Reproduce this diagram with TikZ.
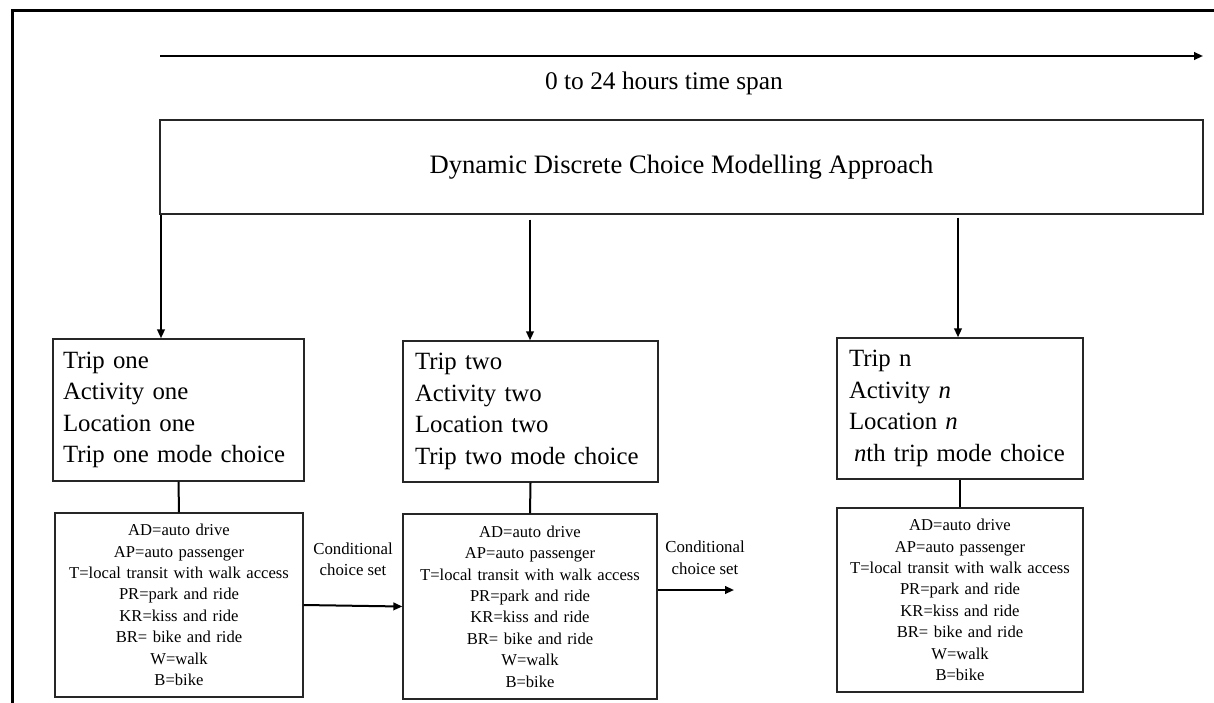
\documentclass[tikz,border=0pt]{standalone}
\usepackage{fontspec}
\setmainfont{Liberation Serif}
\usetikzlibrary{arrows.meta,calc}
\begin{document}
\begin{tikzpicture}[x=0.5pt,y=-0.5pt,
  box/.style={draw=black!85,line width=0.7pt,inner sep=0pt,fill=white},
  tripbox/.style={box,align=left,font=\fontsize{12.4}{15.75}\selectfont},
  modebox/.style={box,align=center,font=\fontsize{8.3}{10.7}\selectfont},
  conn/.style={line width=1pt,black},
  arr/.style={conn,-{Triangle[length=4.5pt,width=3.8pt]}},
  lbl/.style={inner sep=0pt,align=center,font=\fontsize{8.4}{10.75}\selectfont}]
\useasboundingbox (0,0) rectangle (1214,702);
% frame (top and left)
\coordinate (fr0) at (12,702);
\coordinate (fr1) at (12,10);
\coordinate (fr2) at (1214,10);
\draw[line width=1.5pt,line cap=rect] (fr0) -- (fr1) -- (fr2);
% time arrow
\coordinate (ts) at (160,56);
\coordinate (te) at (1203,56);
\draw[arr] (ts) -- (te);
\node[inner sep=0pt,font=\fontsize{12.7}{15}\selectfont] (time) at (664,83) {0 to 24 hours time span};
% main box
\node[box,minimum width=521.5pt,minimum height=47pt,font=\fontsize{13.3}{16}\selectfont] (main) at (681.5,167) {Dynamic Discrete Choice Modelling Approach};
% trip boxes
\node[tripbox,minimum width=125.5pt,minimum height=71pt,text width=115.5pt] (t1) at (178.5,410)
  {Trip one\\Activity one\\Location one\\Trip one mode choice};
\node[tripbox,minimum width=127.5pt,minimum height=70.5pt,text width=115.5pt] (t2) at (530.5,411.5)
  {Trip two\\Activity two\\Location two\\Trip two mode choice};
\node[tripbox,minimum width=123pt,minimum height=70.5pt,text width=111pt] (t3) at (960,408.5)
  {Trip n\\Activity \textit{n}\\Location \textit{n}\\\hspace{2.5pt}\textit{n}th trip mode choice};
% mode boxes
\node[modebox,minimum width=124pt,minimum height=92pt,text width=124pt] (m1) at (179,605)
  {AD=auto drive\\AP=auto passenger\\T=local transit with walk access\\PR=park and ride\\KR=kiss and ride\\BR= bike and ride\\W=walk\\B=bike};
\node[modebox,minimum width=127pt,minimum height=92.5pt,text width=127pt] (m2) at (530,606.5)
  {AD=auto drive\\AP=auto passenger\\T=local transit with walk access\\PR=park and ride\\KR=kiss and ride\\BR= bike and ride\\W=walk\\B=bike};
\node[modebox,minimum width=123pt,minimum height=92pt,text width=123pt] (m3) at (960,600)
  {AD=auto drive\\AP=auto passenger\\T=local transit with walk access\\PR=park and ride\\KR=kiss and ride\\BR= bike and ride\\W=walk\\B=bike};
% arrows from main box
\coordinate (x1) at (161,0);
\coordinate (x2) at (530,0);
\coordinate (x3) at (958,0);
\draw[arr] (main.south -| x1) -- (t1.north -| x1);
\draw[arr] ($(main.south -| x2)+(0,5)$) -- (t2.north -| x2);
\draw[arr] ($(main.south -| x3)+(0,3)$) -- (t3.north -| x3);
% trip to mode
\draw[conn] (t1.south) -- (m1.north);
\draw[conn] (t2.south) -- (m2.north);
\draw[conn] (t3.south) -- (m3.north);
% conditional choice set arrows
\draw[arr] (m1.east) -- (m2.west);
\node[lbl] (c1) at (353,559) {Conditional\\choice set};
\coordinate (ce) at (734,590);
\draw[arr] (m2.east |- ce) -- (ce);
\node[lbl] (c2) at (705,557.5) {Conditional\\choice set};
\end{tikzpicture}
\end{document}
